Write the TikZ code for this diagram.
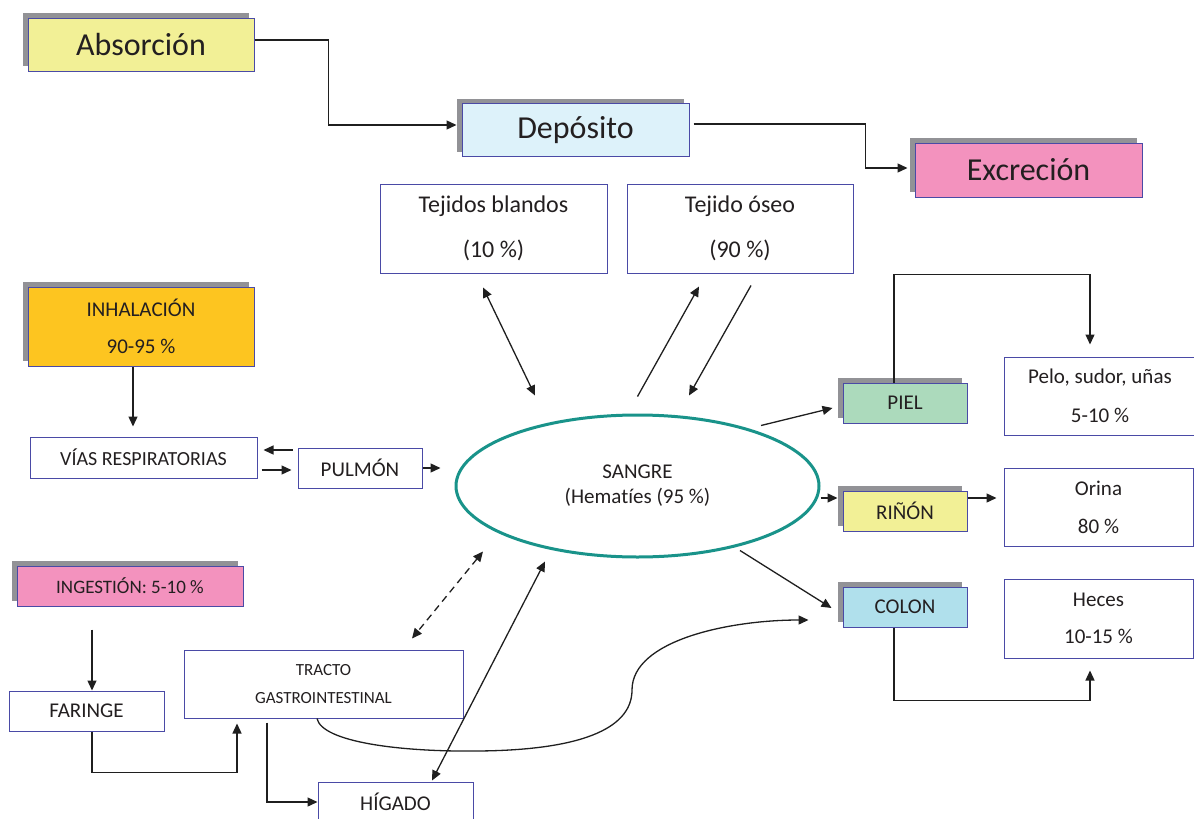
\documentclass[tikz,border=0pt]{standalone}
\usepackage{fontspec}
\setmainfont{Carlito}[Ligatures=NoCommon]
\usetikzlibrary{arrows.meta,shadows,shapes.geometric}
\definecolor{boxline}{HTML}{4A4AA6}
\definecolor{inkgray}{HTML}{231F20}
\definecolor{linkgray}{HTML}{1F1F1F}
\definecolor{shadowgray}{HTML}{929296}
\definecolor{absfill}{HTML}{F2F096}
\definecolor{depfill}{HTML}{DDF2FA}
\definecolor{excfill}{HTML}{F392BE}
\definecolor{inhfill}{HTML}{FDC520}
\definecolor{pielfill}{HTML}{ACDABC}
\definecolor{colonfill}{HTML}{B0E0EC}
\definecolor{sangreteal}{HTML}{19938A}
\begin{document}
\begin{tikzpicture}[x=1pt,y=-1pt,>={Triangle[length=10pt,width=9pt]},
  every node/.style={text=inkgray},
  box/.style={draw=boxline,line width=1pt,fill=white,inner sep=0pt,align=center},
  grayshadow/.style={drop shadow={shadow xshift=-5.5pt,shadow yshift=5pt,fill=shadowgray,opacity=1}},
  fbig/.style={font=\fontsize{32}{38}\selectfont},
  fsmall/.style={font=\fontsize{21}{25}\selectfont},
  link/.style={draw=linkgray,line width=1.3pt}]
\useasboundingbox (0,0) rectangle (1194,819);
\node[box,grayshadow,fill=absfill,fbig,minimum width=226,minimum height=53] (abs) at (141,44.5) {Absorción};
\node[box,grayshadow,fill=depfill,fbig,minimum width=227,minimum height=53] (dep) at (575.5,130) {Depósito};
\node[box,grayshadow,fill=excfill,fbig,minimum width=227,minimum height=54] (exc) at (1028.5,170) {Excreción};
\node[box,font=\fontsize{24}{45}\selectfont,minimum width=227,minimum height=89] (blandos) at (493.5,228.5) {Tejidos blandos\\(10 \%)};
\node[box,font=\fontsize{24}{45}\selectfont,minimum width=226,minimum height=89] (oseo) at (740,228.5) {Tejido óseo\\(90 \%)};
\node[box,grayshadow,fill=inhfill,font=\fontsize{21}{37}\selectfont,minimum width=226,minimum height=79] (inh) at (141,326.5) {INHALACIÓN\\90-95 \%};
\node[box,font=\fontsize{20}{24}\selectfont,minimum width=227,minimum height=41] (vias) at (143.5,457.5) {VÍAS RESPIRATORIAS};
\node[box,fsmall,minimum width=124,minimum height=40] (pulmon) at (360,468) {PULMÓN};
\node[ellipse,draw=sangreteal,line width=3pt,inner sep=0pt,minimum width=363,minimum height=142,align=center,fsmall] (sangre) at (637.5,486) {SANGRE\\(Hematíes (95 \%)};
\node[box,grayshadow,fill=pielfill,fsmall,minimum width=124,minimum height=40] (piel) at (905,403) {PIEL};
\node[box,grayshadow,fill=absfill,fsmall,minimum width=124,minimum height=40] (rinon) at (905,511) {RIÑÓN};
\node[box,grayshadow,fill=colonfill,fsmall,minimum width=124,minimum height=40] (colon) at (905,607) {COLON};
\node[box,font=\fontsize{21}{39}\selectfont,minimum width=192,minimum height=78] (pelo) at (1100,396) {Pelo, sudor, uñas\\5-10 \%};
\node[box,font=\fontsize{21}{38}\selectfont,minimum width=189,minimum height=78] (orina) at (1098.5,507) {Orina\\80 \%};
\node[box,font=\fontsize{21}{37}\selectfont,minimum width=189,minimum height=79] (heces) at (1098.5,618.5) {Heces\\10-15 \%};
\node[box,grayshadow,fill=excfill,font=\fontsize{19}{23}\selectfont,minimum width=226,minimum height=40] (ingest) at (130,586) {INGESTIÓN: 5-10 \%};
\node[box,fsmall,minimum width=155,minimum height=40] (faringe) at (86.5,711) {FARINGE};
\node[box,font=\fontsize{17}{28}\selectfont,minimum width=279,minimum height=68] (tracto) at (323.5,684) {TRACTO\\GASTROINTESTINAL};
\node[box,fsmall,minimum width=155,minimum height=40] (higado) at (395.5,802) {HÍGADO};
\draw[link,->,shorten >=5pt] ([yshift=4.5pt]abs.east) -- ++(74,0) |- ([yshift=5pt]dep.west);
\draw[link,->,shorten >=7pt] ([xshift=4pt,yshift=6pt]dep.east) -- ++(172,0) |- ([yshift=2pt]exc.west);
\draw[link,->,shorten >=10pt] ([xshift=-8pt]inh.south) -- ([xshift=-8pt]inh.south |- vias.north);
\draw[link,->,shorten <=5pt,shorten >=6pt] ([yshift=18pt]pulmon.west) -- ([yshift=18pt]pulmon.west -| vias.east);
\draw[link,->,shorten <=4pt,shorten >=6pt] ([yshift=-2pt]pulmon.west -| vias.east) -- ([yshift=-2pt]pulmon.west);
\draw[link,->,shorten >=14pt] (pulmon.east) -- (pulmon.east -| sangre.west);
\draw[link,<->] ([xshift=-10.5pt,yshift=-14pt]blandos.south) -- ([xshift=-102.5pt,yshift=18pt]sangre.north);
\draw[link,->] ([yshift=17pt]sangre.north) -- ([xshift=-41pt,yshift=-13pt]oseo.south);
\draw[link,->] ([xshift=11pt,yshift=-12pt]oseo.south) -- ([xshift=51.5pt,yshift=18pt]sangre.north);
\draw[link,->] ([xshift=123.5pt,yshift=-12pt]sangre.north) -- ([xshift=-10pt,yshift=-5pt]piel.west);
\draw[link,->,shorten >=5pt] ([yshift=-12pt]sangre.east) -- ([yshift=-12pt]sangre.east -| rinon.west);
\draw[link,->,shorten >=7pt] ([yshift=13pt]rinon.east) -- ([yshift=13pt]rinon.east -| orina.west);
\draw[link,->] ([xshift=102.5pt,yshift=8pt]sangre.south) -- ([xshift=-11pt,yshift=-1pt]colon.west);
\draw[link,->,shorten >=12pt] ([xshift=-11pt]piel.north) -- ++(0,-108) -| ([xshift=-10pt]pelo.north);
\draw[link,->,shorten >=12pt] ([xshift=-11pt]colon.south) -- ++(0,73) -| ([xshift=-8.5pt]heces.south);
\draw[link,->] ([xshift=-38pt,yshift=-23pt]ingest.south) -- ([xshift=-38pt]ingest.south |- faringe.north);
\draw[link,->,shorten >=5pt] ([xshift=5.5pt]faringe.south) -- ++(0,41) -| ([xshift=-86.5pt]tracto.south);
\draw[link,->] ([xshift=-56.5pt,yshift=-4pt]tracto.south) |- (higado.west);
\draw[link,<->,dash pattern=on 7pt off 5pt] ([xshift=-154.5pt,yshift=7pt]sangre.south) -- ([xshift=88.5pt,yshift=11pt]tracto.north);
\draw[link,<->] ([xshift=36.5pt,yshift=1pt]higado.north) -- ([xshift=-92.5pt,yshift=-3pt]sangre.south);
\draw[link,->] ([xshift=-6.5pt]tracto.south) .. controls (322,742) and (400,752) .. (478,751) .. controls (590,750) and (632,725) .. (632,690) .. controls (632,640) and (730,620) .. ([xshift=-34pt,yshift=-13pt]colon.west);
\end{tikzpicture}
\end{document}
